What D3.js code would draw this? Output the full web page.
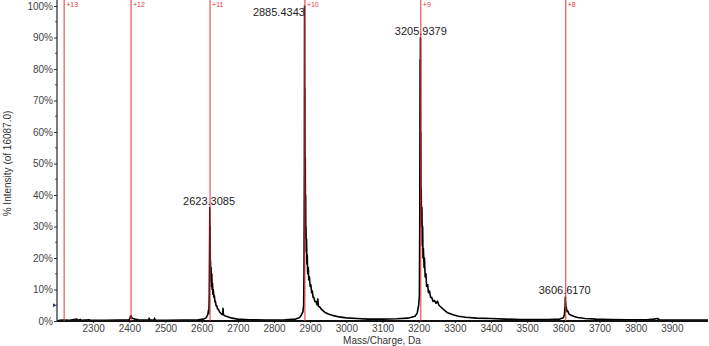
<!DOCTYPE html>
<html>
<head>
<meta charset="utf-8">
<script src="https://cdn.jsdelivr.net/npm/d3@7"></script>
<style>
  body { margin: 0; background: #fff; }
  text { font-family: "Liberation Sans", Arial, sans-serif; }
</style>
</head>
<body>
<div id="chart"></div>
<script>
// spectrum points: [m/z, % intensity]
const spectrum = [
  [2205,0.2],[2220,0.3],[2235,0.2],[2255,0.6],[2257,0.2],[2265,0.5],[2267,0.2],[2290,0.4],[2292,0.2],
  [2330,0.2],[2370,0.3],[2398,0.3],[2402,0.8],[2403,1.6],[2404,1.2],[2405,1.5],[2407,1.0],[2410,0.8],
  [2415,0.6],[2425,0.4],[2440,0.3],[2454,0.3],[2455,0.9],[2456,0.3],[2469,0.3],[2470,0.9],[2471,0.3],
  [2500,0.2],[2550,0.3],[2590,0.4],[2605,0.6],[2612,1.0],[2617,2.0],[2619,3.5],[2620,2.5],[2621,8],
  [2622,25],[2622.5,36],[2623,20],[2623.5,30],[2624,15],[2624.5,19],[2625,13],[2626,17],[2627,11],
  [2628,15],[2629,10],[2630,12],[2631,8.5],[2632,10],[2634,7.5],[2635,8],[2637,6],[2638,6.2],
  [2640,4.8],[2642,4.8],[2644,3.8],[2646,3.8],[2650,2.8],[2655,2.2],[2658,2.0],[2659,4.0],[2660,2.0],
  [2665,1.6],[2670,1.4],[2680,1.0],[2700,0.6],[2730,0.4],[2780,0.3],[2830,0.4],[2860,0.6],[2870,1.0],
  [2876,2.0],[2880,3.0],[2882,5],[2883,15],[2884,50],[2884.5,100],[2885,55],[2885.5,74],[2886,40],
  [2886.5,52],[2887,30],[2887.5,40],[2888,26],[2888.5,30],[2889,22],[2890,26],[2891,18],[2892,21],
  [2893,15],[2895,17],[2896,13],[2898,14],[2900,11],[2902,11.5],[2904,9],[2906,9.5],[2908,7.5],
  [2910,7.5],[2913,6.2],[2916,6.2],[2919,5.2],[2921,7.0],[2923,4.6],[2926,4.5],[2932,3.6],[2940,2.8],
  [2950,2.2],[2965,1.7],[2980,1.3],[3000,1.0],[3030,0.8],[3060,0.6],[3100,0.6],[3140,0.7],[3170,0.9],
  [3190,1.5],[3196,2.5],[3200,5],[3202,8],[3203,30],[3204,83],[3204.5,60],[3205,90],[3205.5,45],
  [3206,60],[3206.5,36],[3207,42],[3208,30],[3209,36],[3210,24],[3211,30],[3212,20],[3213,23],
  [3215,17],[3216,20],[3218,14],[3220,15],[3222,11],[3225,11.5],[3227,9],[3230,9.5],[3233,7.5],
  [3236,7.5],[3240,6.2],[3244,6.5],[3248,5.6],[3252,6.3],[3256,5.0],[3260,4.6],[3270,3.5],[3280,2.6],
  [3295,2.0],[3310,1.5],[3330,1.2],[3360,0.9],[3400,0.8],[3440,0.6],[3480,0.5],[3520,0.5],[3560,0.5],
  [3590,0.6],[3600,1.0],[3603,2.0],[3605,5],[3605.5,7.6],[3606,4],[3606.5,6],[3607,3.5],[3608,4.5],
  [3610,3],[3612,3.2],[3616,2.2],[3622,1.8],[3630,1.4],[3640,1.1],[3660,0.8],[3690,0.6],[3730,0.5],
  [3780,0.4],[3830,0.4],[3850,0.6],[3860,0.8],[3866,0.4],[3900,0.3],[3950,0.3],[4000,0.3]
];

// charge state markers
const chargeStates = ["+13", "+12", "+11", "+10", "+9", "+8"];
const chargeMz = [2219.8, 2404.7, 2623.2, 2885.4, 3205.9, 3606.6];

// peak labels
const peakLabels = ["2623.3085", "2885.4343", "3205.9379", "3606.6170"];
const peakMz = [2623.3, 2885.4, 3205.9, 3606.6];
const peakPct = [37, 100, 91, 8];

const xTicks = [2300, 2400, 2500, 2600, 2700, 2800, 2900, 3000, 3100, 3200, 3300, 3400, 3500, 3600, 3700, 3800, 3900];
const yTicks = [0, 10, 20, 30, 40, 50, 60, 70, 80, 90, 100];
const threshold = 5;

const W = 709, H = 346;
const margin = {left: 57, right: 1, top: 6, bottom: 25};

const svg = d3.select("#chart").append("svg")
  .attr("width", W).attr("height", H);

const x = d3.scaleLinear().domain([2200, 4000]).range([margin.left, W - margin.right]);
const y = d3.scaleLinear().domain([0, 100]).range([H - margin.bottom, margin.top]);

// y axis
const yAxis = svg.append("g")
  .attr("transform", `translate(${margin.left},0)`)
  .call(d3.axisLeft(y).tickValues(yTicks).tickFormat(d => d + "%").tickSize(3).tickSizeOuter(0));
yAxis.select(".domain").remove();
yAxis.selectAll("text").attr("font-size", 10).attr("fill", "#444").attr("x", -4);
yAxis.selectAll("line").attr("stroke", "#333");
svg.append("g")
  .selectAll("line")
  .data(d3.range(5, 100, 10))
  .join("line")
  .attr("x1", margin.left - 2).attr("x2", margin.left)
  .attr("y1", d => y(d)).attr("y2", d => y(d))
  .attr("stroke", "#555");
svg.append("line")
  .attr("x1", margin.left).attr("x2", margin.left)
  .attr("y1", 0).attr("y2", y(0))
  .attr("stroke", "#222").attr("stroke-width", 1.2);

// x axis
const xAxis = svg.append("g")
  .attr("transform", `translate(0,${y(0)})`)
  .call(d3.axisBottom(x).tickValues(xTicks).tickFormat(d3.format("d")).tickSize(2).tickSizeOuter(0));
xAxis.select(".domain").remove();
xAxis.selectAll("text").attr("font-size", 10).attr("fill", "#444").attr("y", 4);
xAxis.selectAll("line").attr("stroke", "#333");

// threshold marker
svg.append("path")
  .attr("d", `M${margin.left - 4},${y(threshold) - 2}L${margin.left - 1},${y(threshold)}L${margin.left - 4},${y(threshold) + 2}Z`)
  .attr("fill", "#1a2a6a");

// spectrum
const line = d3.line().x(d => x(d[0])).y(d => y(d[1]));
svg.append("path")
  .datum(spectrum)
  .attr("fill", "none")
  .attr("stroke", "#000")
  .attr("stroke-width", 1.6)
  .attr("stroke-linejoin", "round")
  .attr("d", line);

// baseline
svg.append("line")
  .attr("x1", margin.left).attr("x2", W - margin.right)
  .attr("y1", y(0)).attr("y2", y(0))
  .attr("stroke", "#111").attr("stroke-width", 1.8);

// charge state lines
const cs = svg.append("g");
chargeMz.forEach((m, i) => {
  cs.append("line")
    .attr("x1", x(m)).attr("x2", x(m))
    .attr("y1", 0).attr("y2", y(0))
    .attr("stroke", "#e8353a").attr("stroke-width", 1.2).attr("opacity", 0.85);
  cs.append("text")
    .attr("x", x(m) + 2).attr("y", 7)
    .attr("font-size", 7).attr("fill", "#e8353a")
    .text(chargeStates[i]);
});

// peak labels
const labelDx = [-1, -26, 0, -1];
const labelDy = [1, 10, 1, -2];
peakLabels.forEach((t, i) => {
  svg.append("text")
    .attr("x", x(peakMz[i]) + labelDx[i])
    .attr("y", y(peakPct[i]) + labelDy[i])
    .attr("text-anchor", "middle")
    .attr("font-size", 11)
    .attr("fill", "#222")
    .text(t);
});

// axis titles
svg.append("text")
  .attr("x", 382).attr("y", 344)
  .attr("text-anchor", "middle")
  .attr("font-size", 10).attr("fill", "#333")
  .text("Mass/Charge, Da");

svg.append("text")
  .attr("transform", `translate(11,${(margin.top + y(0)) / 2}) rotate(-90)`)
  .attr("text-anchor", "middle")
  .attr("font-size", 10).attr("fill", "#333")
  .text("% Intensity (of 16087.0)");
</script>
</body>
</html>
